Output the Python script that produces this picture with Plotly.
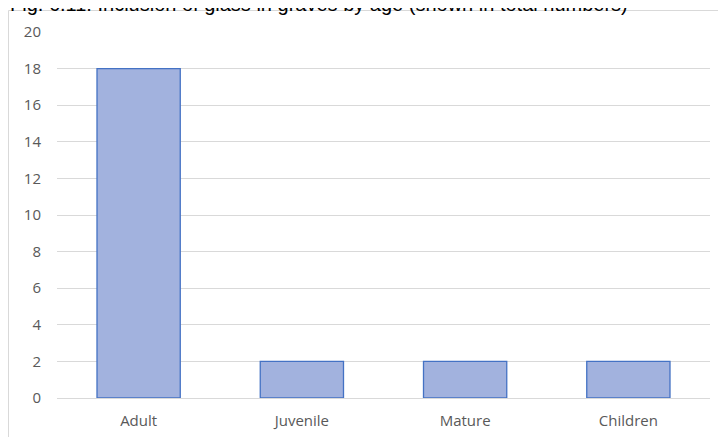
import plotly.graph_objects as go

age_groups = ["Adult", "Juvenile", "Mature", "Children"]
graves_with_glass = [18, 2, 2, 2]
y_ticks = [0, 2, 4, 6, 8, 10, 12, 14, 16, 18, 20]

# page body has an 8px margin, so the figure is a bit smaller than the window
W, H = 718, 429
ml, mr, mt, mb = 49, 16, 24, 39
pw = W - ml - mr
ph = H - mt - mb

fig = go.Figure(go.Bar(
    x=age_groups,
    y=graves_with_glass,
    marker=dict(color="#a2b2de", line=dict(color="#4472c4", width=1.3)),
))

# outer chart frame (runs off the right/bottom edge, like the screenshot)
fig.add_shape(type="rect", xref="paper", yref="paper",
              x0=(0.5 - ml) / pw, x1=(W + 30 - ml) / pw,
              y0=-(mb + 30) / ph, y1=1 + (mt - 2.5) / ph,
              line=dict(color="#d9d9d9", width=1), layer="below")

# caption sits half cut off at the top
fig.add_annotation(text="Fig. 6.11: Inclusion of glass in graves by age (shown in total numbers)",
                   xref="paper", yref="paper", x=(0 - ml) / pw, y=1 + (mt + 4) / ph,
                   xanchor="left", yanchor="middle", showarrow=False,
                   font=dict(family="Liberation Sans, Arial", size=20, color="#000000"))

fig.update_layout(
    width=W, height=H,
    margin=dict(l=ml, r=mr, t=mt, b=mb),
    plot_bgcolor="white", paper_bgcolor="white",
    bargap=0.49,
    showlegend=False,
    font=dict(family="Open Sans, Liberation Sans", size=15, color="#595959"),
)
fig.update_yaxes(range=[0, 20], tickvals=y_ticks, showgrid=True, gridcolor="#d9d9d9",
                 gridwidth=1, zeroline=False, showline=False, ticks="", ticklabelstandoff=15,
                 automargin=False)
fig.update_xaxes(showgrid=False, showline=True, linecolor="#d9d9d9", ticks="",
                 ticklabelstandoff=9, automargin=False)

fig.write_html("out.html")
